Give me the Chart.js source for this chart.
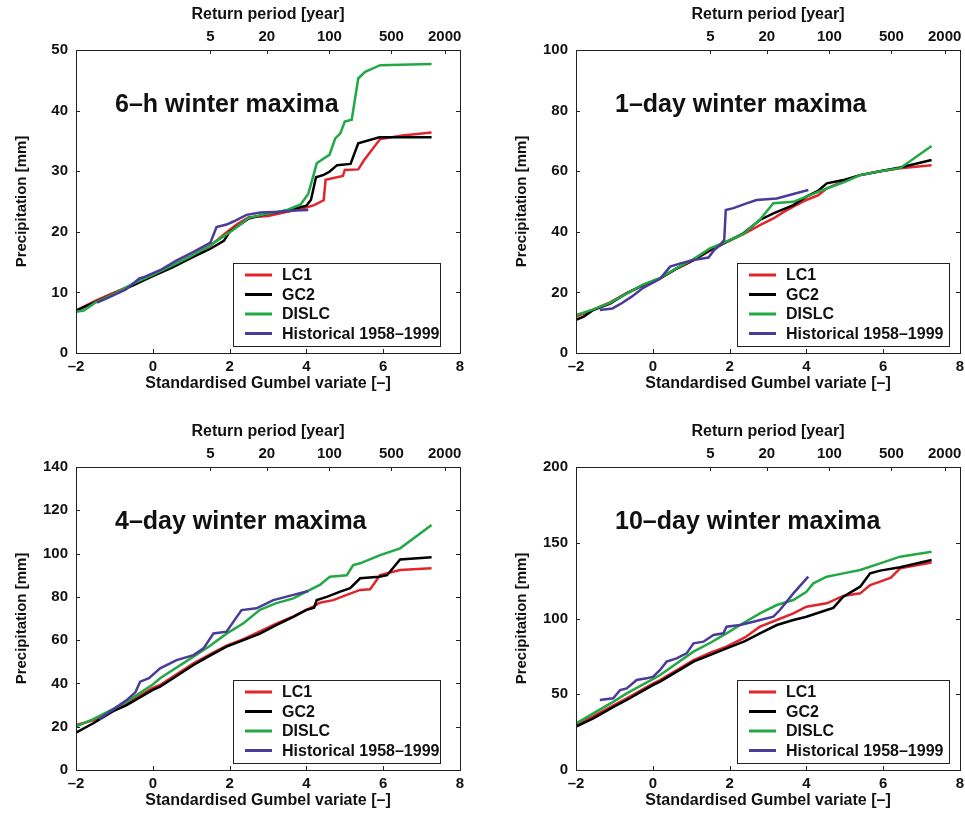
<!DOCTYPE html>
<html><head><meta charset="utf-8">
<script src="https://cdn.jsdelivr.net/npm/chart.js@4.4.1/dist/chart.umd.min.js"></script>
<style>
html,body{margin:0;padding:0;overflow:hidden;background:#fff;width:965px;height:816px;}
.p{position:absolute;width:480px;height:399px;}
</style></head><body>
<div class="p" style="left:0;top:0"><canvas id="c1" width="480" height="399"></canvas></div>
<div class="p" style="left:500px;top:0"><canvas id="c2" width="480" height="399"></canvas></div>
<div class="p" style="left:0;top:417px"><canvas id="c3" width="480" height="399"></canvas></div>
<div class="p" style="left:500px;top:417px"><canvas id="c4" width="480" height="399"></canvas></div>
<script>
// ---- categories / labels ----
const seriesNames = ['LC1', 'GC2', 'DISLC', 'Historical 1958\u20131999'];
const returnPeriods = [5, 20, 100, 500, 2000];
const panelTitles = ['6\u2013h winter maxima', '1\u2013day winter maxima', '4\u2013day winter maxima', '10\u2013day winter maxima'];
const yMaxes = [50, 100, 140, 200];
const ySteps = [10, 20, 20, 50];
const xTitle = 'Standardised Gumbel variate [\u2013]';
const x2Title = 'Return period [year]';
const yTitle = 'Precipitation [mm]';

// ---- series values: [Gumbel variate, precipitation mm] ----
// 6-h winter maxima
const h6_LC1 = [[-2,7],[-1.5,8.6],[-1,10],[-0.5,11.3],[0,12.9],[0.5,14.4],[1,16],[1.5,17.7],[1.9,19.8],[2.2,21.3],[2.5,22.4],[3,22.6],[3.5,23.3],[4.0,24.0],[4.2,24.4],[4.45,25.2],[4.5,28.6],[4.95,29.2],[5.0,30.2],[5.35,30.3],[5.5,31.8],[5.92,35.3],[6.5,35.9],[7.26,36.4]];
const h6_GC2 = [[-2,7],[-1.5,8.4],[-1,9.8],[-0.5,11.2],[0,12.7],[0.5,14.1],[1,15.7],[1.5,17.2],[1.85,18.5],[2.0,20],[2.5,22.2],[3,23],[3.5,23.5],[4.0,24.3],[4.12,25.3],[4.25,29.0],[4.45,29.4],[4.6,29.9],[4.8,31],[5.15,31.2],[5.35,34.6],[5.9,35.6],[7.26,35.6]];
const h6_DISLC = [[-2,6.8],[-1.8,7],[-1.5,8.3],[-1,9.8],[-0.5,11.5],[0,12.9],[0.5,14.4],[1,16],[1.5,17.8],[2,19.9],[2.5,22.3],[3,23],[3.5,23.6],[3.85,24.5],[4.05,26.3],[4.27,31.3],[4.45,32.1],[4.6,32.7],[4.75,35.4],[4.88,36.2],[5.0,38.2],[5.18,38.5],[5.35,45.3],[5.53,46.4],[5.92,47.5],[7.26,47.7]];
const h6_Hist = [[-1.45,8.3],[-1.1,9.3],[-0.7,10.5],[-0.35,12.3],[-0.2,12.6],[0.2,13.7],[0.6,15.2],[1.06,16.7],[1.3,17.5],[1.5,18.2],[1.66,20.8],[1.92,21.2],[2.1,21.7],[2.44,22.8],[2.8,23.2],[3.3,23.3],[3.7,23.5],[4.05,23.6]];
// 1-day winter maxima
const d1_LC1 = [[-2,12],[-1.55,14.3],[-1.1,16.8],[-0.68,19.8],[-0.25,22.5],[0.19,24.6],[0.62,27.8],[1.06,30.6],[1.49,33.8],[1.92,36.6],[2.36,39.2],[2.79,42.2],[3.14,44.4],[3.4,46.5],[3.66,48.3],[4.0,50.5],[4.3,52],[4.53,54.3],[5.0,57],[5.4,58.7],[5.92,60],[6.44,61],[7.26,62]];
const d1_GC2 = [[-2,10.9],[-1.8,12],[-1.55,14.2],[-1.1,16.4],[-0.68,19.7],[-0.25,22.4],[0.19,24.6],[0.62,27.9],[1.06,30.7],[1.49,34],[1.92,36.7],[2.36,39.5],[2.79,43.9],[3.14,46.1],[3.66,48.8],[4.0,51.6],[4.3,53.5],[4.53,56],[5.0,57.2],[5.4,58.7],[5.92,60],[6.44,61.2],[7.26,63.7]];
const d1_DISLC = [[-2,12.5],[-1.55,14.4],[-1.1,16.6],[-0.68,19.6],[-0.25,22.6],[0.19,24.8],[0.62,28],[1.06,31],[1.49,34.5],[1.92,36.8],[2.36,39.3],[2.79,44],[3.14,49.4],[3.66,49.9],[4.0,51.6],[4.53,54.3],[5.0,56.5],[5.4,58.7],[5.92,60],[6.44,61],[7.26,68.3]];
const d1_Hist = [[-1.38,14.2],[-1.05,14.7],[-0.8,16.5],[-0.55,18.6],[-0.25,21.5],[0.19,24.5],[0.45,28.5],[0.7,29.5],[1.06,30.7],[1.3,31.2],[1.45,31.5],[1.6,34],[1.75,35.6],[1.86,37.3],[1.9,47.2],[2.1,47.8],[2.44,49.4],[2.7,50.5],[3.23,51],[3.66,52.5],[4.05,53.8]];
// 4-day winter maxima
const d4_LC1 = [[-2,20.8],[-1.55,23],[-1,28],[-0.68,30.8],[0,38],[0.19,39.3],[1.06,49.3],[1.5,53.5],[1.92,57.5],[2.36,60.5],[2.79,64],[3.2,67.5],[3.66,71],[4.0,74],[4.18,75.5],[4.35,77.3],[4.7,78.5],[5.05,80.9],[5.4,83.2],[5.66,83.5],[5.92,90.1],[6.44,92.4],[7.26,93.2]];
const d4_GC2 = [[-2,17.2],[-1.55,21.6],[-1,27.5],[-0.68,30],[0,37],[0.19,38.5],[1.06,48.5],[1.5,53],[1.92,57],[2.36,60],[2.79,63],[3.2,66.8],[3.66,70.8],[4.0,74],[4.2,75],[4.27,78.5],[4.53,80],[4.88,82.4],[5.14,84],[5.4,88.6],[5.9,89.3],[6.1,90],[6.44,97.3],[7.26,98.3]];
const d4_DISLC = [[-2,20],[-1.55,23.5],[-1,28.5],[-0.68,31.6],[0,39.5],[0.19,42.4],[1.06,52.4],[1.5,57.5],[1.92,63],[2.36,67.8],[2.79,74],[3.2,77],[3.66,79.3],[4.0,82.4],[4.35,85.5],[4.61,89.3],[5.05,90],[5.22,94.7],[5.4,95.5],[5.92,99.3],[6.44,102.4],[7.26,113.2]];
const d4_Hist = [[-1.4,23.5],[-1.03,28],[-0.68,32.3],[-0.45,36],[-0.33,40.8],[-0.1,42.4],[0.19,47],[0.62,50.8],[1.06,53.1],[1.32,56.2],[1.58,63.1],[1.92,63.9],[2.31,73.9],[2.7,74.7],[3.14,78.5],[3.66,80.9],[4.05,82.7]];
// 10-day winter maxima
const d10_LC1 = [[-2,30],[-1.55,35.5],[-1,43],[-0.68,47.3],[0,57],[0.19,59.4],[1.06,72.6],[1.5,77.5],[1.92,81.4],[2.4,87.5],[2.79,94.6],[3.23,99],[3.66,103.4],[4.0,107.8],[4.53,110],[4.96,114.9],[5.4,116.6],[5.66,122.1],[5.92,124.3],[6.2,127],[6.44,133.1],[7.26,136.9]];
const d10_GC2 = [[-2,28.6],[-1.55,34.1],[-1,42],[-0.68,46.2],[0,56],[0.19,58.3],[1.06,71.5],[1.5,76],[1.92,80.3],[2.4,85],[2.79,90.2],[3.23,95.7],[3.66,99],[4.0,101.2],[4.53,105.6],[4.7,107],[4.96,114.4],[5.4,121],[5.66,129.8],[5.92,131.6],[6.44,133.8],[7.26,138.6]];
const d10_DISLC = [[-2,30.8],[-1.55,37.4],[-1,45.5],[-0.68,50.6],[0,60],[0.19,62.7],[1.06,78.1],[1.5,84],[1.92,90.2],[2.36,97],[2.79,103.4],[3.23,108.9],[3.66,112.2],[4.0,117.7],[4.18,123.2],[4.53,127.6],[4.96,129.8],[5.4,132],[5.92,136.4],[6.44,140.8],[7.26,144.1]];
const d10_Hist = [[-1.38,46.2],[-1.03,47.3],[-0.85,52.8],[-0.68,53.9],[-0.42,59.4],[-0.16,60.5],[0.01,61.6],[0.19,66],[0.36,71.5],[0.62,73.7],[0.88,77],[1.06,83.6],[1.32,84.7],[1.58,89.1],[1.84,90.2],[1.92,94.6],[2.27,95.7],[2.62,97.9],[3.14,101.2],[3.31,105.6],[3.66,116.6],[4.05,127.6]];

// ---- styling ----
const colors = ['#e2252b', '#000000', '#22a845', '#4a3a9a'];
const FONT = '"Liberation Sans", Arial, Helvetica, sans-serif';
const TXT = '#111';

const gumbel = T => -Math.log(-Math.log(1 - 1 / T));
const dash = v => String(v).replace('-', '\u2013');

const panelDecor = {
  id: 'panelDecor',
  afterDraw(chart, args, opts) {
    const ctx = chart.ctx, ca = chart.chartArea;
    const sx = chart.scales.x, sx2 = chart.scales.x2, sy = chart.scales.y;
    ctx.save();
    ctx.strokeStyle = '#222'; ctx.lineWidth = 1;
    const tl = 4;
    ctx.beginPath();
    sx.ticks.forEach(t => { const p = Math.round(sx.getPixelForValue(t.value)) + 0.5; ctx.moveTo(p, ca.bottom); ctx.lineTo(p, ca.bottom - tl); });
    sx2.ticks.forEach(t => { const p = Math.round(sx2.getPixelForValue(t.value)) + 0.5; ctx.moveTo(p, ca.top); ctx.lineTo(p, ca.top + tl); });
    sy.ticks.forEach(t => { const p = Math.round(sy.getPixelForValue(t.value)) + 0.5; ctx.moveTo(ca.left, p); ctx.lineTo(ca.left + tl, p); ctx.moveTo(ca.right, p); ctx.lineTo(ca.right - tl, p); });
    ctx.stroke();
    ctx.strokeRect(Math.round(ca.left) + 0.5, Math.round(ca.top) + 0.5, Math.round(ca.right - ca.left), Math.round(ca.bottom - ca.top));
    // panel title
    ctx.fillStyle = TXT;
    ctx.font = 'bold 25px ' + FONT;
    ctx.textBaseline = 'middle'; ctx.textAlign = 'left';
    ctx.fillText(opts.title, ca.left + 39, ca.top + 55);
    // legend box
    const lw = opts.legendW, lh = 83;
    const lx = ca.right - opts.legendRight - lw, ly = ca.bottom - 7 - lh;
    ctx.fillStyle = '#fff';
    ctx.fillRect(lx, ly, lw, lh);
    ctx.strokeStyle = '#222'; ctx.lineWidth = 1;
    ctx.strokeRect(Math.round(lx) + 0.5, Math.round(ly) + 0.5, lw, lh);
    ctx.font = 'bold 16px ' + FONT;
    chart.data.datasets.forEach((ds, i) => {
      const yy = ly + 12 + i * 19.5;
      ctx.strokeStyle = ds.borderColor; ctx.lineWidth = 3;
      ctx.beginPath(); ctx.moveTo(lx + 12, yy); ctx.lineTo(lx + 39, yy); ctx.stroke();
      ctx.fillStyle = TXT;
      ctx.fillText(ds.label, lx + 49, yy + 1);
    });
    ctx.restore();
  }
};

function makeChart(id, idx, series, legendRight, legendW) {
  const datasets = series.map((s, i) => ({
    label: seriesNames[i],
    data: s.map(p => ({ x: p[0], y: p[1] })),
    borderColor: colors[i],
    backgroundColor: colors[i],
    borderWidth: 2.5,
    pointRadius: 0,
    showLine: true,
    tension: 0,
    order: 4 - i
  }));
  const tickFont = { family: FONT, size: 15, weight: 'bold', lineHeight: 1 };
  new Chart(document.getElementById(id), {
    type: 'scatter',
    data: { datasets },
    options: {
      responsive: false,
      animation: false,
      events: [],
      layout: { padding: { left: 0, top: 0, right: 20, bottom: 0 } },
      plugins: {
        legend: { display: false },
        tooltip: { enabled: false },
        panelDecor: { title: panelTitles[idx], legendRight, legendW }
      },
      scales: {
        x: {
          type: 'linear', position: 'bottom', min: -2, max: 8,
          grid: { display: false, drawTicks: false },
          border: { display: false },
          ticks: { stepSize: 2, font: tickFont, color: TXT, padding: 6, maxRotation: 0, autoSkip: false, callback: v => dash(v) },
          title: { display: true, text: xTitle, color: TXT, font: { family: FONT, size: 16, weight: 'bold', lineHeight: 1 }, padding: { top: 0, bottom: 7 } },
          afterFit: s => { s.height = 46; }
        },
        x2: {
          type: 'linear', position: 'top', min: -2, max: 8,
          grid: { display: false, drawTicks: false },
          border: { display: false },
          afterBuildTicks: s => { s.ticks = returnPeriods.map(T => ({ value: gumbel(T) })); },
          ticks: { font: tickFont, color: TXT, padding: 6, maxRotation: 0, autoSkip: false, callback: (v, i) => String(returnPeriods[i]) },
          title: { display: true, text: x2Title, color: TXT, font: { family: FONT, size: 16, weight: 'bold', lineHeight: 1 }, padding: { top: 7, bottom: 0 } },
          afterFit: s => { s.height = 50; }
        },
        y: {
          type: 'linear', position: 'left', min: 0, max: yMaxes[idx],
          grid: { display: false, drawTicks: false },
          border: { display: false },
          ticks: { stepSize: ySteps[idx], font: tickFont, color: TXT, padding: 8 },
          title: { display: true, text: yTitle, color: TXT, font: { family: FONT, size: 15, weight: 'bold', lineHeight: 1 }, padding: { top: 14, bottom: 0 } },
          afterFit: s => { s.width = 76; }
        }
      }
    },
    plugins: [panelDecor]
  });
}

makeChart('c1', 0, [h6_LC1, h6_GC2, h6_DISLC, h6_Hist], 20, 207);
makeChart('c2', 1, [d1_LC1, d1_GC2, d1_DISLC, d1_Hist], 11, 212);
makeChart('c3', 2, [d4_LC1, d4_GC2, d4_DISLC, d4_Hist], 20, 207);
makeChart('c4', 3, [d10_LC1, d10_GC2, d10_DISLC, d10_Hist], 11, 212);
</script>
</body></html>
